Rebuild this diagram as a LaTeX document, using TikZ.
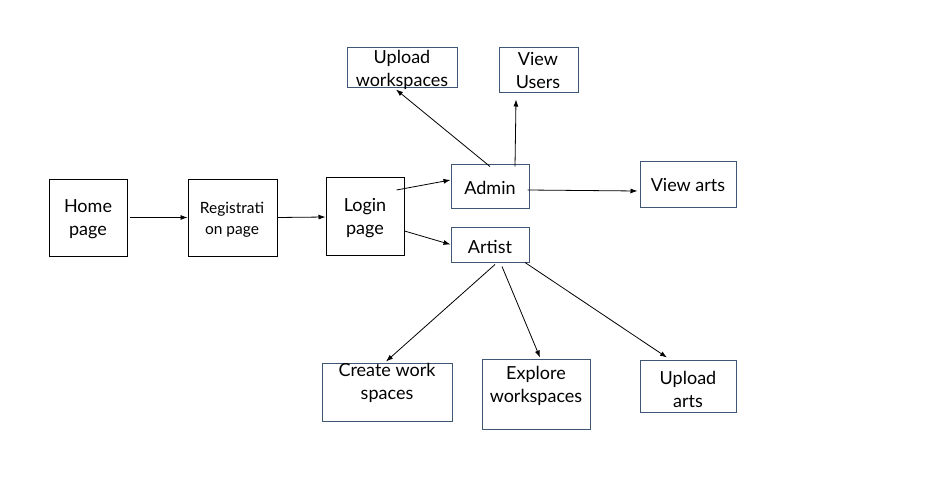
\documentclass[tikz,border=0pt]{standalone}
\usepackage{fontspec}
\setmainfont{Lato}
\usetikzlibrary{arrows.meta,calc}
\definecolor{bx}{HTML}{3F5675}
\begin{document}
\begin{tikzpicture}[x=1pt,y=-1pt,
 box/.style={draw=bx, line width=1pt, inner sep=0pt},
 kbox/.style={draw=black, line width=1pt, inner sep=0pt},
 txt/.style={font=\fontsize{18}{23}\selectfont, align=center, inner sep=0pt},
 stxt/.style={font=\fontsize{15.5}{21}\selectfont, align=center, inner sep=0pt},
 arr/.style={-{Latex[length=7pt,width=5pt]}, line width=0.8pt}]
\useasboundingbox[fill=white] (0,0) rectangle (936,503);
% boxes
\node[kbox, minimum width=78pt, minimum height=77pt] (home) at (88,217.5) {};
\node[kbox, minimum width=89pt, minimum height=77pt] (reg) at (232.5,217.5) {};
\node[kbox, minimum width=78pt, minimum height=78pt] (login) at (365,216) {};
\node[box, minimum width=78pt, minimum height=44pt] (admin) at (490,186) {};
\node[box, minimum width=78pt, minimum height=35pt] (artist) at (490,244.5) {};
\node[box, minimum width=96pt, minimum height=46pt] (viewarts) at (688,184) {};
\node[box, minimum width=110pt, minimum height=39pt] (upws) at (402,67.5) {};
\node[box, minimum width=79pt, minimum height=44pt] (viewusers) at (538.5,70) {};
\node[box, minimum width=130pt, minimum height=58pt] (create) at (387,392) {};
\node[box, minimum width=108pt, minimum height=70pt] (explore) at (536,394) {};
\node[box, minimum width=96pt, minimum height=52pt] (uparts) at (688,386) {};
% texts
\node[txt] (homeT) at (88,219.5) {Home\\page};
\node[stxt] (regT) at (232,219.5) {Registrati\\on page};
\node[txt] (loginT) at (365,218.5) {Login\\page};
\node[txt] (adminT) at (490,188) {Admin};
\node[txt] (artistT) at (490,247) {Artist};
\node[txt] (viewartsT) at (688,185) {View arts};
\node[txt] (upwsT) at (402,69.5) {Upload\\workspaces};
\node[txt] (viewusersT) at (538,71) {View\\Users};
\node[txt] (createT) at (387,383) {Create work\\spaces};
\node[txt] (exploreT) at (536,385.5) {Explore\\workspaces};
\node[txt] (upartsT) at (688,389) {Upload\\arts};
% arrows
\draw[arr] ($(home.east)+(2,0)$) -- (reg.west);
\draw[arr] (reg.east) -- ($(login.west)+(0,1)$);
\draw[arr] ($(login.east)+(-8,-26)$) -- ($(admin.west)+(0,-6)$);
\draw[arr] ($(login.east)+(0,15)$) -- (artist.west);
\draw[arr] ($(admin.north)+(0,3)$) -- ($(upws.south)+(-6,2)$);
\draw[arr] ($(admin.north)+(25,3)$) -- ($(viewusers.south)+(-22.5,7)$);
\draw[arr] ($(admin.east)+(-2,4)$) -- ($(viewarts.west)+(-2,7)$);
\draw[arr] ($(artist.south)+(5,2)$) -- ($(create.north)+(-1,-1)$);
\draw[arr] ($(artist.south)+(12,4)$) -- ($(explore.north)+(4,-1)$);
\draw[arr] ($(artist.south)+(35,0)$) -- ($(uparts.north)+(-21,-2)$);
\end{tikzpicture}
\end{document}
